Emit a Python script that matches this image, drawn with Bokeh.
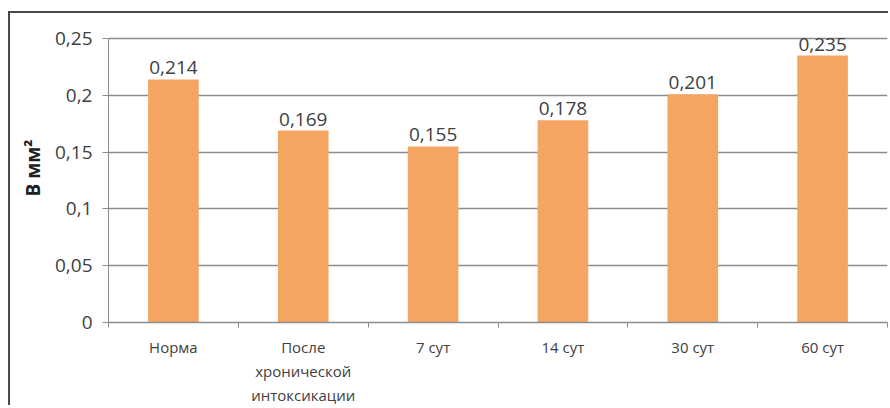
from bokeh.plotting import figure
from bokeh.models import FixedTicker, ColumnDataSource, Range1d
from bokeh.core.properties import value
from bokeh.embed import file_html
from bokeh.resources import INLINE

categories = ["Норма", "После\nхронической\nинтоксикации", "7 сут", "14 сут", "30 сут", "60 сут"]
values = [0.214, 0.169, 0.155, 0.178, 0.201, 0.235]
y_ticks = [0, 0.05, 0.1, 0.15, 0.2, 0.25]
y_tick_labels = ["0", "0,05", "0,1", "0,15", "0,2", "0,25"]
y_label = "В мм²"

FONT = "Open Sans"
TXT = "#404040"
GRID = "#8c8c8c"
BAR = "#F5A562"

xs = [i + 0.5 for i in range(len(categories))]
labels = [f"{v:.3f}".replace(".", ",") for v in values]
src = ColumnDataSource(dict(x=xs, top=values, label=labels))

p = figure(width=880, height=394, output_backend="svg", toolbar_location=None,
           x_range=Range1d(0, len(categories)), y_range=Range1d(0, 0.272),
           min_border_left=98, min_border_right=3, min_border_top=0, min_border_bottom=84)
p.margin = (11, 0, 0, 8)
p.styles = {"border-top": "2px solid #4a4a4a", "border-left": "2px solid #4a4a4a"}
p.outline_line_color = None
p.background_fill_color = "white"
p.border_fill_color = "white"

p.vbar(x="x", top="top", width=0.39, source=src, fill_color=BAR, line_color=None)
p.text(x="x", y="top", text="label", source=src, text_align="center", text_baseline="bottom",
       y_offset=-5, text_font=value(FONT), text_font_size="19px", text_color=TXT)

# x axis
xa = p.xaxis[0]
xa.ticker = FixedTicker(ticks=xs, minor_ticks=list(range(len(categories) + 1)))
xa.major_label_overrides = {x: c for x, c in zip(xs, categories)}
xa.major_tick_out = 0
xa.major_tick_in = 0
xa.minor_tick_out = 5
xa.minor_tick_in = 0
xa.minor_tick_line_color = GRID
xa.axis_line_color = GRID
xa.axis_line_width = 1.5
xa.major_label_text_font = FONT
xa.major_label_text_font_size = "15px"
xa.major_label_text_line_height = 1.2
xa.major_label_text_color = TXT
xa.major_label_standoff = 9

# y axis
ya = p.yaxis[0]
ya.ticker = FixedTicker(ticks=y_ticks)
ya.bounds = (0, 0.25)
ya.major_label_overrides = {t: l for t, l in zip(y_ticks, y_tick_labels)}
ya.major_tick_out = 6
ya.major_tick_in = 0
ya.minor_tick_out = 0
ya.minor_tick_in = 0
ya.major_tick_line_color = GRID
ya.axis_line_color = GRID
ya.major_label_text_font = FONT
ya.major_label_text_font_size = "19px"
ya.major_label_text_color = TXT
ya.major_label_standoff = 10
ya.axis_label = y_label
ya.axis_label_text_font = FONT
ya.axis_label_text_font_style = "bold"
ya.axis_label_text_font_size = "19px"
ya.axis_label_text_color = "#202020"
ya.axis_label_standoff = 6

p.xgrid.grid_line_color = None
p.ygrid.grid_line_color = GRID
p.ygrid.grid_line_width = 1.5
p.ygrid.ticker = FixedTicker(ticks=y_ticks)

open("out.html", "w").write(file_html(p, INLINE))
